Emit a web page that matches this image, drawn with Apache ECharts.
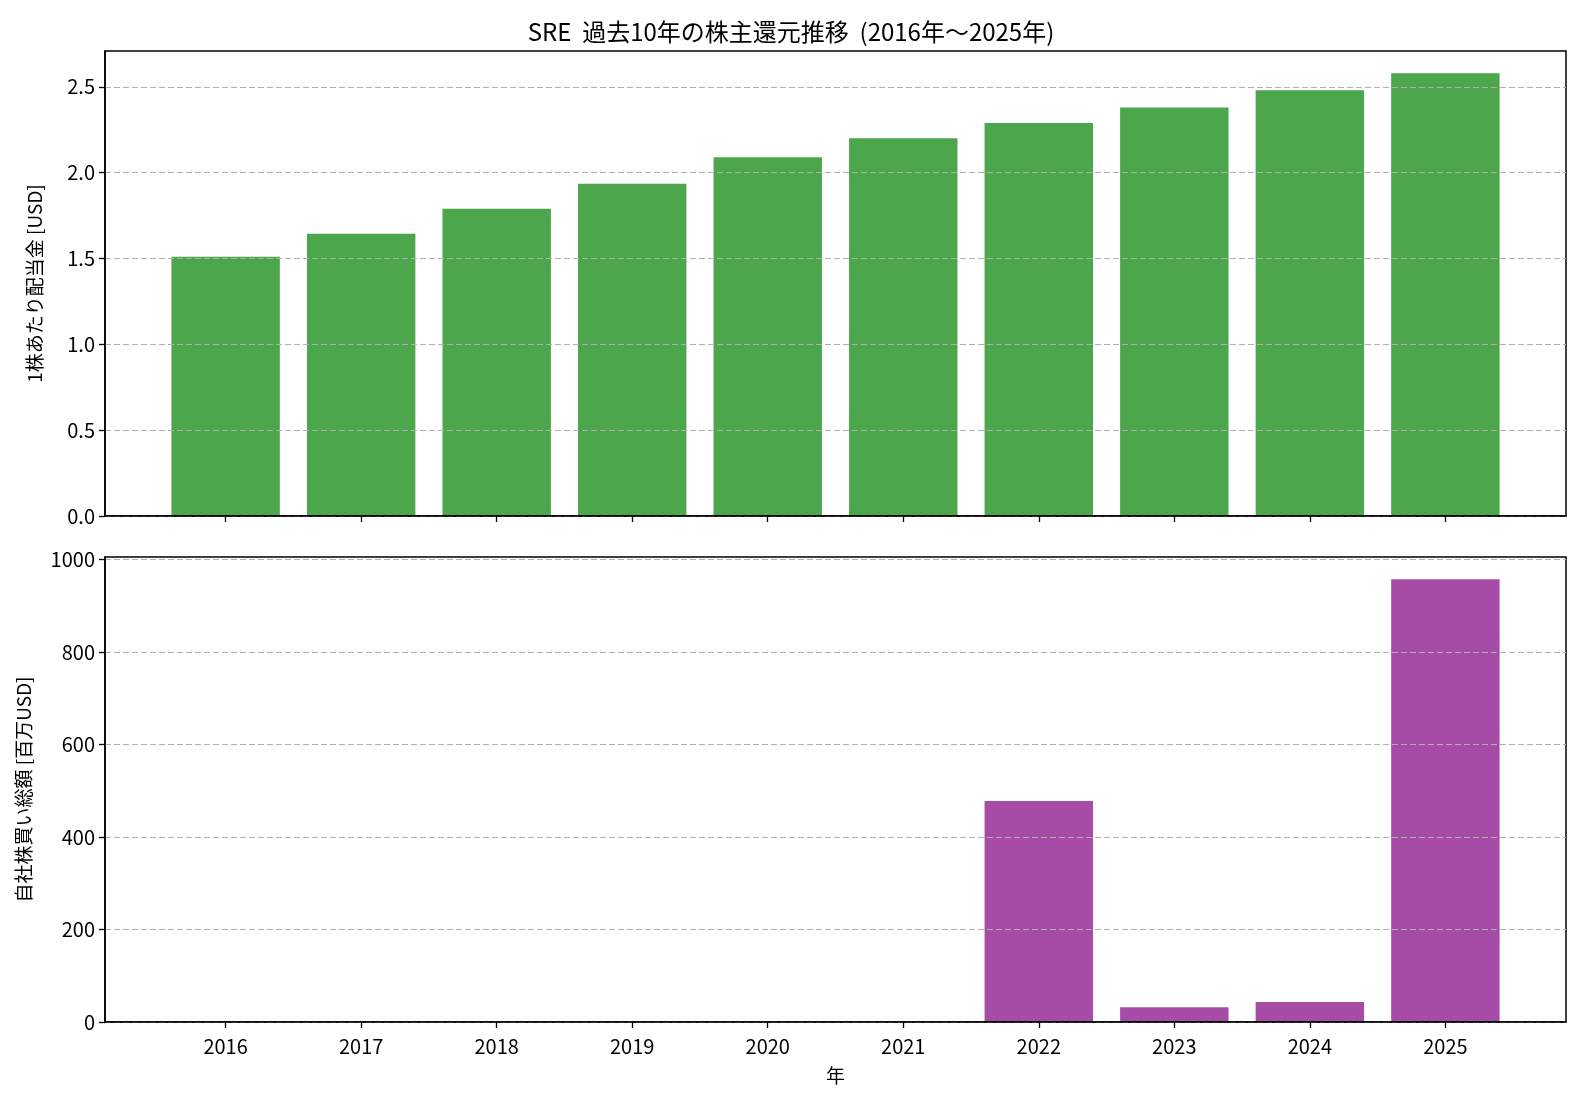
<!DOCTYPE html>
<html>
<head>
<meta charset="utf-8">
<script src="https://cdn.jsdelivr.net/npm/echarts@6/dist/echarts.min.js"></script>
<style>
html,body{margin:0;padding:0;background:#fff;}
#c{width:1582px;height:1102px;}
</style>
</head>
<body>
<div id="c"></div>
<script>
const years = ['2016','2017','2018','2019','2020','2021','2022','2023','2024','2025'];
const dividends = [1.51, 1.645, 1.79, 1.935, 2.09, 2.20, 2.29, 2.38, 2.48, 2.58];
const buybacks = [0, 0, 0, 0, 0, 0, 478, 32, 43, 958];
const divTicks = [0, 0.5, 1.0, 1.5, 2.0, 2.5];
const buyTicks = [0, 200, 400, 600, 800, 1000];

const FONT = "'Noto Sans CJK JP', sans-serif";
const xMin = -0.89, xMax = 9.89;
const gridLeft = 105, gridRight = 16;
const plotW = 1582 - gridLeft - gridRight;
const barW = 0.8 * plotW / (xMax - xMin);
const idx = years.map((y, i) => i);

const chart = echarts.init(document.getElementById('c'), null, {renderer: 'canvas'});

function xAxisCfg(gridIndex, showLabels) {
  return {
    type: 'value', gridIndex: gridIndex, min: xMin, max: xMax, z: 6,
    axisLine: {show: true, onZero: false, lineStyle: {color: '#000', width: 1.5}},
    axisTick: {show: true, customValues: idx, inside: false, length: 6, lineStyle: {color: '#000', width: 1.3}},
    axisLabel: {show: showLabels, customValues: idx, formatter: v => years[Math.round(v)] || '',
      color: '#000', fontSize: 20, fontFamily: FONT, margin: 14},
    splitLine: {show: false},
    name: showLabels ? '年' : '', nameLocation: 'middle', nameGap: 44,
    nameTextStyle: {color: '#000', fontSize: 19, fontFamily: FONT}
  };
}
function yAxisCfg(gridIndex, max, interval, ticks, fmt, name, nameGap) {
  return {
    type: 'value', gridIndex: gridIndex, min: 0, max: max, interval: interval, z: 5,
    axisLine: {show: true, onZero: false, lineStyle: {color: '#000', width: 1.5}},
    axisTick: {show: true, customValues: ticks, length: 6, lineStyle: {color: '#000', width: 1.3}},
    axisLabel: {customValues: ticks, formatter: fmt, color: '#000', fontSize: 20, fontFamily: FONT, margin: 10},
    splitLine: {show: true, lineStyle: {color: '#b0b0b0', width: 1, type: [6, 3]}},
    name: name, nameLocation: 'middle', nameGap: nameGap,
    nameTextStyle: {color: '#000', fontSize: 19, fontFamily: FONT}
  };
}

chart.setOption({
  backgroundColor: '#fff',
  animation: false,
  title: {
    text: 'SRE  過去10年の株主還元推移  (2016年～2025年)',
    left: 'center', top: 15,
    textStyle: {color: '#000', fontSize: 24, fontWeight: 'normal', fontFamily: FONT}
  },
  grid: [
    {left: gridLeft, right: gridRight, top: 51, height: 465, show: true, borderColor: '#000', borderWidth: 1.5, backgroundColor: 'transparent', z: 4},
    {left: gridLeft, right: gridRight, top: 557, height: 465, show: true, borderColor: '#000', borderWidth: 1.5, backgroundColor: 'transparent', z: 4}
  ],
  xAxis: [xAxisCfg(0, false), xAxisCfg(1, true)],
  yAxis: [
    yAxisCfg(0, 2.709, 0.5, divTicks, v => v.toFixed(1), '1株あたり配当金 [USD]', 61),
    yAxisCfg(1, 1005.9, 200, buyTicks, v => String(Math.round(v)), '自社株買い総額 [百万USD]', 72)
  ],
  series: [
    {type: 'bar', xAxisIndex: 0, yAxisIndex: 0, z: 1, barWidth: barW,
     itemStyle: {color: 'rgba(0,128,0,0.7)'},
     data: dividends.map((v, i) => [i, v])},
    {type: 'bar', xAxisIndex: 1, yAxisIndex: 1, z: 1, barWidth: barW,
     itemStyle: {color: 'rgba(128,0,128,0.7)'},
     data: buybacks.map((v, i) => [i, v])}
  ]
});
</script>
</body>
</html>
